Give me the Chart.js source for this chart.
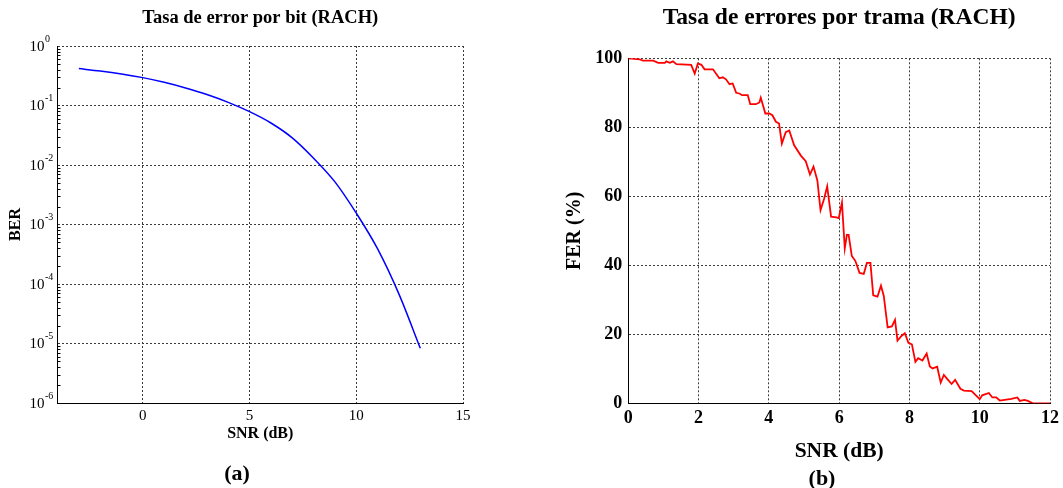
<!DOCTYPE html>
<html>
<head>
<meta charset="utf-8">
<script src="https://cdn.jsdelivr.net/npm/chart.js@4.4.1/dist/chart.umd.min.js"></script>
<style>
  html, body { margin:0; padding:0; background:#fff; width:1063px; height:488px; overflow:hidden; }
  .wrap { position:absolute; top:0; height:488px; }
  #wa { left:0; width:530px; }
  #wb { left:530px; width:533px; }
  .lab { position:absolute; font-family:"Liberation Serif","Times New Roman",serif; font-weight:bold; font-size:22px; color:#000; transform:translate(-50%,-50%); white-space:nowrap; }
</style>
</head>
<body>
<div class="wrap" id="wa"><canvas id="ca"></canvas></div>
<div class="wrap" id="wb"><canvas id="cb"></canvas></div>
<div class="lab" style="left:237px; top:473px;">(a)</div>
<div class="lab" style="left:822px; top:478px;">(b)</div>
<script>
// ---- Data: chart (a) BER ----
const titleA = 'Tasa de error por bit (RACH)';
const snrA = [-3, -2, -1, 0, 1, 2, 3, 4, 5, 6, 7, 8, 9, 10, 11, 12, 13];
const berA = [0.417, 0.380, 0.339, 0.294, 0.245, 0.197, 0.153, 0.113, 0.0787, 0.0508, 0.0286, 0.0130, 0.0052, 0.00155, 0.000389, 0.0000676, 0.0000083];
const xTicksA = [0, 5, 10, 15];
const yTicksA = [1e-6, 1e-5, 1e-4, 1e-3, 1e-2, 1e-1, 1];
const yExpA = ['-6', '-5', '-4', '-3', '-2', '-1', '0'];

// ---- Data: chart (b) FER ----
const titleB = 'Tasa de errores por trama (RACH)';
const snrB = [0, 0.33, 0.42, 0.71, 0.85, 1.04, 1.08, 1.18, 1.27, 1.37, 1.79, 1.89, 1.98, 2.08, 2.17, 2.41, 2.59, 2.69, 2.78, 2.88, 2.97, 3.07, 3.16, 3.24, 3.40, 3.47, 3.63, 3.73, 3.77, 3.90, 4.01, 4.10, 4.20, 4.29, 4.37, 4.48, 4.58, 4.72, 4.91, 5.05, 5.17, 5.27, 5.38, 5.47, 5.57, 5.66, 5.77, 5.92, 5.99, 6.08, 6.16, 6.22, 6.27, 6.36, 6.46, 6.58, 6.70, 6.79, 6.89, 6.97, 7.09, 7.19, 7.27, 7.38, 7.50, 7.59, 7.66, 7.78, 7.87, 7.97, 8.07, 8.17, 8.25, 8.37, 8.49, 8.58, 8.66, 8.79, 8.89, 8.98, 9.08, 9.20, 9.30, 9.45, 9.55, 9.77, 10.0, 10.07, 10.26, 10.36, 10.47, 10.57, 10.71, 10.90, 11.07, 11.14, 11.27, 11.37, 11.51, 12];
const ferB = [100, 99.7, 99.3, 99.3, 98.7, 98.7, 99.1, 98.7, 99.1, 98.3, 98.1, 95.6, 98.5, 98.1, 96.8, 96.8, 94.2, 94.5, 93.9, 92.5, 92.7, 90.0, 89.8, 89.3, 89.3, 86.7, 86.7, 87.2, 88.6, 84.0, 84.0, 83.5, 81.6, 81.1, 75.3, 78.6, 79.1, 74.8, 71.8, 70.2, 66.3, 68.6, 64.6, 56.0, 59.2, 62.9, 54.1, 53.9, 53.7, 58.2, 44.9, 48.8, 48.8, 42.7, 41.3, 37.8, 37.5, 40.7, 40.7, 31.3, 30.9, 34.1, 31.1, 22.0, 22.3, 24.2, 18.2, 19.6, 20.3, 17.5, 17.1, 12.0, 13.1, 12.4, 14.4, 10.7, 10.1, 10.6, 6.0, 8.2, 7.0, 5.6, 6.8, 4.2, 3.7, 3.5, 1.2, 2.3, 3.0, 1.7, 1.7, 0.8, 1.0, 1.3, 1.7, 0.7, 1.0, 0.7, 0, 0];
const xTicksB = [0, 2, 4, 6, 8, 10, 12];
const yTicksB = [0, 20, 40, 60, 80, 100];

const SERIF = '"Liberation Serif", "Times New Roman", serif';
const GRID = '#3a3a3a';

const logLabels = {
  id: 'logLabels',
  afterDraw(chart) {
    const s = chart.scales.y, ctx = chart.ctx;
    const left = chart.chartArea.left;
    ctx.save();
    ctx.fillStyle = '#000';
    yTicksA.forEach((v, i) => {
      const y = s.getPixelForValue(v);
      ctx.font = '15px ' + SERIF;
      ctx.textAlign = 'right';
      ctx.textBaseline = 'middle';
      ctx.fillText('10', left - 13, y + 1);
      ctx.font = '10px ' + SERIF;
      ctx.textAlign = 'left';
      ctx.fillText(yExpA[i], left - 12.5, y - 7);
    });
    // minor ticks on the left axis
    ctx.strokeStyle = '#000';
    ctx.lineWidth = 1;
    ctx.beginPath();
    for (let k = 0; k < yTicksA.length - 1; k++) {
      for (let m = 2; m <= 9; m++) {
        const y = Math.round(s.getPixelForValue(yTicksA[k] * m)) + 0.5;
        ctx.moveTo(left, y); ctx.lineTo(left + 3, y);
      }
    }
    ctx.stroke();
    ctx.restore();
  }
};

Chart.defaults.font.family = SERIF;
Chart.defaults.color = '#000';

new Chart(document.getElementById('ca'), {
  type: 'line',
  data: { datasets: [{
    data: snrA.map((x, i) => ({ x: x, y: berA[i] })),
    borderColor: '#0000ff', borderWidth: 1.5, pointRadius: 0,
    cubicInterpolationMode: 'monotone', fill: false
  }]},
  options: {
    responsive: true, maintainAspectRatio: false, animation: false,
    layout: { padding: { left: 0, right: 67, top: 0, bottom: 0 } },
    plugins: {
      legend: { display: false }, tooltip: { enabled: false },
      title: { display: true, text: titleA, fullSize: false, color: '#000',
        font: { family: SERIF, size: 18.5, weight: 'bold' }, padding: { top: 7.5, bottom: 16.3 } }
    },
    scales: {
      x: {
        type: 'linear', min: -4, max: 15,
        afterBuildTicks: s => { s.ticks = xTicksA.map(v => ({ value: v })); },
        afterFit: s => { s.height = 85; },
        grid: { color: GRID, lineWidth: 1, drawTicks: false },
        border: { display: true, color: '#000', width: 1, dash: [2, 2] },
        ticks: { font: { family: SERIF, size: 15 }, color: '#000', padding: 4, maxRotation: 0 },
        title: { display: true, text: 'SNR (dB)', color: '#000',
          font: { family: SERIF, size: 16, weight: 'bold' }, padding: { top: 0, bottom: 44.5 } }
      },
      y: {
        type: 'logarithmic', min: 1e-6, max: 1,
        afterBuildTicks: s => { s.ticks = yTicksA.map(v => ({ value: v })); },
        afterFit: s => { s.width = 57.5; },
        grid: { color: GRID, lineWidth: 1, drawTicks: false },
        border: { display: true, color: '#000', width: 1, dash: [2, 2] },
        ticks: { display: false },
        title: { display: true, text: 'BER', color: '#000',
          font: { family: SERIF, size: 16, weight: 'bold' }, padding: { top: 6.4, bottom: 0 } }
      }
    }
  },
  plugins: [logLabels]
});

new Chart(document.getElementById('cb'), {
  type: 'line',
  data: { datasets: [{
    data: snrB.map((x, i) => ({ x: x, y: ferB[i] })),
    borderColor: '#ff0000', borderWidth: 1.8, pointRadius: 0, tension: 0, fill: false
  }]},
  options: {
    responsive: true, maintainAspectRatio: false, animation: false,
    layout: { padding: { left: 0, right: 10.7, top: 0, bottom: 0 } },
    plugins: {
      legend: { display: false }, tooltip: { enabled: false },
      title: { display: true, text: titleB, fullSize: false, color: '#000',
        font: { family: SERIF, size: 23.5, weight: 'bold' }, padding: { top: 3.4, bottom: 26.7 } }
    },
    scales: {
      x: {
        type: 'linear', min: 0, max: 12,
        afterBuildTicks: s => { s.ticks = xTicksB.map(v => ({ value: v })); },
        afterFit: s => { s.height = 84.7; },
        grid: { color: GRID, lineWidth: 1, drawTicks: false },
        border: { display: true, color: '#000', width: 1, dash: [2, 2] },
        ticks: { font: { family: SERIF, size: 18, weight: 'bold' }, color: '#000', padding: 4, maxRotation: 0 },
        title: { display: true, text: 'SNR (dB)', color: '#000',
          font: { family: SERIF, size: 21.5, weight: 'bold' }, padding: { top: 0, bottom: 23.5 } }
      },
      y: {
        type: 'linear', min: 0, max: 100,
        afterBuildTicks: s => { s.ticks = yTicksB.map(v => ({ value: v })); },
        afterFit: s => { s.width = 98.3; },
        grid: { color: GRID, lineWidth: 1, drawTicks: false },
        border: { display: true, color: '#000', width: 1, dash: [2, 2] },
        ticks: { font: { family: SERIF, size: 18, weight: 'bold' }, color: '#000', padding: 6 },
        title: { display: true, text: 'FER (%)', color: '#000',
          font: { family: SERIF, size: 20, weight: 'bold' }, padding: { top: 33, bottom: 0 } }
      }
    }
  }
});
</script>
</body>
</html>
